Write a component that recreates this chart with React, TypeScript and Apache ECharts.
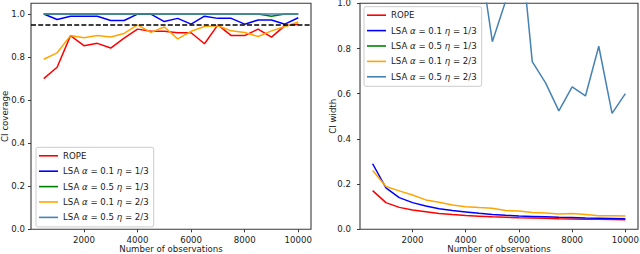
import React, { useEffect, useRef } from "react";
import * as echarts from "echarts";

const observations = [500, 1000, 1500, 2000, 2500, 3000, 3500, 4000, 4500, 5000, 5500, 6000, 6500, 7000, 7500, 8000, 8500, 9000, 9500, 10000];

const seriesNames = ["ROPE", "LSA α = 0.1 η = 1/3", "LSA α = 0.5 η = 1/3", "LSA α = 0.1 η = 2/3", "LSA α = 0.5 η = 2/3"];
const seriesColors = ["#ff0000", "#0000ff", "#008000", "#ffa500", "#4682b4"];

// CI coverage (left panel)
const coverageRope = [0.70, 0.753, 0.90, 0.853, 0.864, 0.842, 0.888, 0.93, 0.92, 0.92, 0.913, 0.913, 0.862, 0.95, 0.90, 0.90, 0.93, 0.893, 0.946, 0.953];
const coverageA01E13 = [1.0, 0.975, 0.99, 0.99, 0.99, 0.97, 0.97, 1.0, 1.0, 0.965, 0.98, 0.953, 0.99, 0.98, 0.98, 0.953, 0.972, 0.972, 0.953, 0.983];
const coverageA05E13 = [1.0, 1.0, 1.0, 1.0, 1.0, 1.0, 1.0, 1.0, 1.0, 1.0, 1.0, 1.0, 1.0, 1.0, 1.0, 1.0, 1.0, 0.99, 1.0, 1.0];
const coverageA01E23 = [0.79, 0.82, 0.90, 0.89, 0.90, 0.893, 0.91, 0.95, 0.915, 0.94, 0.885, 0.92, 0.942, 0.946, 0.922, 0.914, 0.896, 0.922, 0.942, 0.963];
const coverageA05E23 = [1.0, 1.0, 1.0, 1.0, 1.0, 1.0, 1.0, 1.0, 1.0, 1.0, 1.0, 1.0, 1.0, 1.0, 1.0, 1.0, 1.0, 1.0, 1.0, 1.0];
const nominalCoverage = 0.95;

// CI width (right panel)
const widthRope = [0.171, 0.118, 0.097, 0.085, 0.078, 0.07, 0.065, 0.061, 0.058, 0.055, 0.053, 0.051, 0.05, 0.049, 0.047, 0.046, 0.045, 0.044, 0.043, 0.042];
const widthA01E13 = [0.29, 0.183, 0.14, 0.118, 0.103, 0.091, 0.083, 0.077, 0.071, 0.066, 0.062, 0.059, 0.057, 0.055, 0.053, 0.052, 0.05, 0.049, 0.048, 0.047];
const widthA05E13 = [3.4, 2.8, 2.5, 2.3, 2.15, 2.05, 1.95, 1.9, 1.85, 1.8, 1.75, 1.7, 1.68, 1.65, 1.62, 1.6, 1.58, 1.55, 1.53, 1.5];
const widthA01E23 = [0.26, 0.189, 0.17, 0.152, 0.13, 0.12, 0.108, 0.10, 0.096, 0.093, 0.083, 0.081, 0.074, 0.072, 0.068, 0.07, 0.065, 0.06, 0.06, 0.059];
const widthA05E23 = [2.4, 2.0, 1.8, 1.65, 1.55, 1.45, 1.38, 1.3, 1.23, 0.83, 1.01, 1.35, 0.742, 0.648, 0.524, 0.63, 0.59, 0.81, 0.513, 0.60];

const xTicks = [2000, 4000, 6000, 8000, 10000];
const coverageTicks = [0, 0.2, 0.4, 0.6, 0.8, 1.0];

const coverageData = [coverageRope, coverageA01E13, coverageA05E13, coverageA01E23, coverageA05E23];
const widthData = [widthRope, widthA01E13, widthA05E13, widthA01E23, widthA05E23];

const FONT = "DejaVu Sans";
const FS = 8.6;
const TXT = "#1a1a1a";
const FRAME = "#3a3a3a";

export default function App() {
  const ref = useRef<HTMLDivElement>(null);
  useEffect(() => {
    document.body.style.margin = "0";
    if (!ref.current) return;
    const chart = echarts.init(ref.current, null, { renderer: "svg" });

    const makeX = (gridIndex: number) => ({
      type: "value",
      gridIndex,
      min: 25,
      max: 10475,
      name: "Number of observations",
      nameLocation: "middle",
      nameGap: 15.5,
      nameMoveOverlap: false,
      nameTextStyle: { fontFamily: FONT, fontSize: FS, color: TXT },
      splitLine: { show: false },
      axisLine: { show: false },
      axisTick: { show: true, length: 3, customValues: xTicks, lineStyle: { color: FRAME, width: 1 } },
      axisLabel: { customValues: xTicks, fontFamily: FONT, fontSize: FS, color: TXT, margin: 6, formatter: (v: number) => String(v) },
    });

    const yCommon = {
      type: "value",
      nameLocation: "middle",
      nameMoveOverlap: false,
      nameTextStyle: { fontFamily: FONT, fontSize: FS, color: TXT },
      splitLine: { show: false },
      axisLine: { show: false },
    };

    const legendCommon = {
      orient: "vertical",
      icon: "rect",
      itemWidth: 19,
      itemHeight: 1.6,
      itemGap: 4.4,
      data: seriesNames,
      padding: [3, 5, 4, 3],
      borderColor: "#cccccc",
      borderWidth: 1,
      borderRadius: 2,
      backgroundColor: "rgba(255,255,255,0.8)",
      selectedMode: false,
      formatter: (name: string) => name.replace(/([αη])/g, "{i|$1}"),
      textStyle: {
        fontFamily: FONT,
        fontSize: FS,
        color: TXT,
        lineHeight: 11,
        rich: { i: { fontFamily: FONT, fontSize: FS, fontStyle: "italic", color: TXT, lineHeight: 11 } },
      },
    };

    const series: any[] = [];
    coverageData.forEach((vals, i) => {
      series.push({
        name: seriesNames[i],
        type: "line",
        xAxisIndex: 0,
        yAxisIndex: 0,
        data: observations.map((x, j) => [x, vals[j]]),
        showSymbol: false,
        symbol: "none",
        lineStyle: { color: seriesColors[i], width: 1.5 },
        itemStyle: { color: seriesColors[i] },
      });
    });
    series.push({
      name: "nominal",
      type: "line",
      xAxisIndex: 0,
      yAxisIndex: 0,
      data: [],
      markLine: {
        silent: true,
        symbol: ["none", "none"],
        label: { show: false },
        lineStyle: { color: "#000000", type: [5, 2.2], width: 1.5 },
        data: [{ yAxis: nominalCoverage }],
      },
    });
    widthData.forEach((vals, i) => {
      series.push({
        name: seriesNames[i],
        type: "line",
        xAxisIndex: 1,
        yAxisIndex: 1,
        data: observations.map((x, j) => [x, vals[j]]),
        showSymbol: false,
        symbol: "none",
        clip: true,
        lineStyle: { color: seriesColors[i], width: 1.5 },
        itemStyle: { color: seriesColors[i] },
      });
    });

    chart.setOption({
      animation: false,
      backgroundColor: "#ffffff",
      grid: [
        { left: 31, top: 3.3, width: 280, height: 226, outerBoundsMode: "none", containLabel: false, show: true, borderColor: FRAME, borderWidth: 1.1, backgroundColor: "transparent" },
        { left: 360, top: 3.3, width: 278, height: 226, outerBoundsMode: "none", containLabel: false, show: true, borderColor: FRAME, borderWidth: 1.1, backgroundColor: "transparent" },
      ],
      xAxis: [makeX(0), makeX(1)],
      yAxis: [
        {
          ...yCommon,
          gridIndex: 0,
          min: 0,
          max: 1.05,
          name: "CI coverage",
          nameGap: 22,
          axisTick: { show: true, length: 3, customValues: coverageTicks, lineStyle: { color: FRAME, width: 1 } },
          axisLabel: { customValues: coverageTicks, fontFamily: FONT, fontSize: FS, color: TXT, margin: 6, formatter: (v: number) => v.toFixed(1) },
        },
        {
          ...yCommon,
          gridIndex: 1,
          min: 0,
          max: 1,
          interval: 0.2,
          name: "CI width",
          nameGap: 23,
          axisTick: { show: true, length: 3, lineStyle: { color: FRAME, width: 1 } },
          axisLabel: { fontFamily: FONT, fontSize: FS, color: TXT, margin: 9, formatter: (v: number) => v.toFixed(1) },
        },
      ],
      legend: [
        { ...legendCommon, left: 36, top: 147.3 },
        { ...legendCommon, left: 364, top: 6.7 },
      ],
      series,
    });

    return () => chart.dispose();
  }, []);

  return <div ref={ref} style={{ width: 640, height: 254 }} />;
}
